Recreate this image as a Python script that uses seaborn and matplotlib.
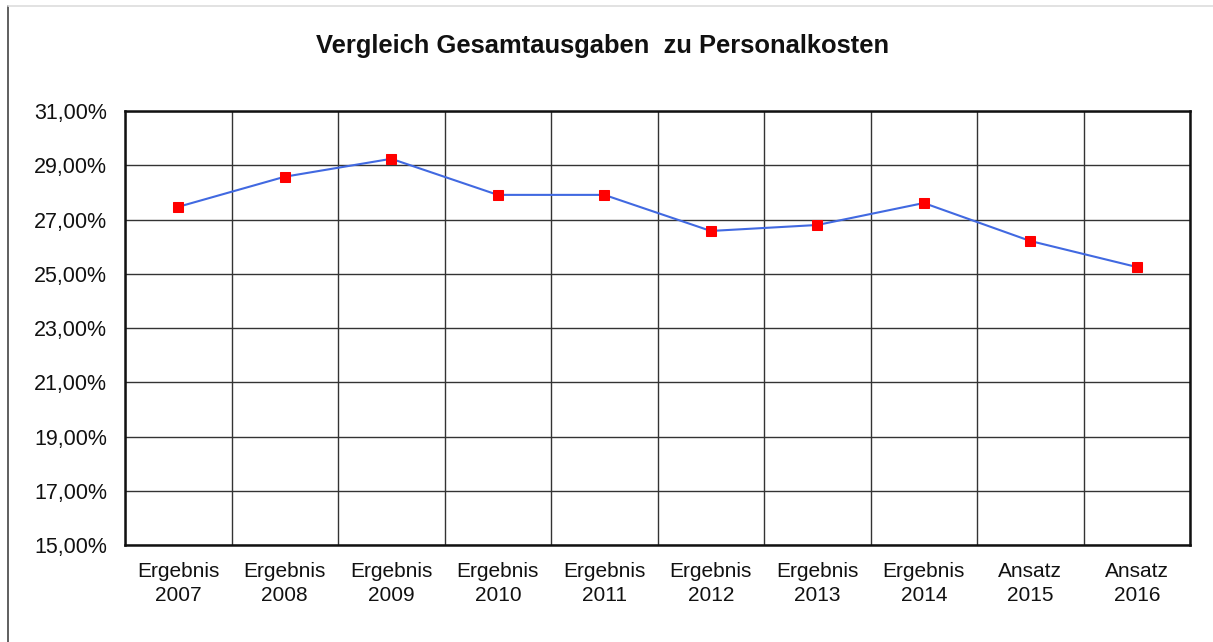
import matplotlib
matplotlib.use('agg')
import numpy as np
import pandas as pd
import matplotlib.pyplot as plt
import seaborn as sns
from matplotlib.lines import Line2D
from matplotlib.ticker import FuncFormatter, FixedLocator

# data
labels = ["Ergebnis\n2007", "Ergebnis\n2008", "Ergebnis\n2009", "Ergebnis\n2010",
          "Ergebnis\n2011", "Ergebnis\n2012", "Ergebnis\n2013", "Ergebnis\n2014",
          "Ansatz\n2015", "Ansatz\n2016"]
quote = [27.47, 28.58, 29.24, 27.91, 27.91, 26.58, 26.80, 27.61, 26.21, 25.25]
yticks = [15, 17, 19, 21, 23, 25, 27, 29, 31]

sns.set_style("white")
plt.rcParams['font.family'] = ['Liberation Sans', 'DejaVu Sans']

df = pd.DataFrame({"label": labels, "quote": quote})

fig = plt.figure(figsize=(12.13, 6.42), dpi=100)
ax = fig.add_axes([0.1031, 0.151, 0.878, 0.676])

sns.lineplot(data=df, x="label", y="quote", ax=ax, color="#4169e1", linewidth=1.5,
             marker="s", markersize=7, markerfacecolor="#ff0000",
             markeredgecolor="#ff0000", sort=False)

n = len(labels)
ax.set_xlim(-0.5, n - 0.5)
ax.set_ylim(yticks[0], yticks[-1])
ax.set_yticks(yticks)
ax.yaxis.set_major_formatter(FuncFormatter(lambda v, p: f"{v:.2f}".replace(".", ",") + "%"))
ax.set_xticks(range(n))
ax.set_xticklabels(labels, linespacing=1.35)
ax.xaxis.set_minor_locator(FixedLocator(np.arange(-0.5, n, 1.0)))
ax.tick_params(axis="x", which="major", length=0, pad=12, labelsize=15, colors="#111111")
ax.tick_params(axis="x", which="minor", length=7, width=1, color="#444444", direction="out")
ax.tick_params(axis="y", which="major", length=6, width=1, color="#444444",
               direction="out", labelsize=15.5, pad=7, labelcolor="#111111")
ax.grid(False)
ax.yaxis.grid(True, color="#333333", linewidth=1)
ax.xaxis.grid(True, which="minor", color="#333333", linewidth=1)
ax.set_axisbelow(True)
for s in ax.spines.values():
    s.set_color("#111111")
    s.set_linewidth(1.8)
ax.set_xlabel("")
ax.set_ylabel("")

fig.text(0.497, 0.928, "Vergleich Gesamtausgaben  zu Personalkosten",
         ha="center", va="center", fontsize=18.4, fontweight="bold", color="#111111")

# outer frame of the slide chart
fig.add_artist(Line2D([8 / 1213, 8 / 1213], [0, 1 - 6 / 642], color="#444444", linewidth=1.2))
fig.add_artist(Line2D([8 / 1213, 1], [1 - 6 / 642, 1 - 6 / 642], color="#dddddd", linewidth=1.2))

fig.savefig("out.png", dpi=100)
